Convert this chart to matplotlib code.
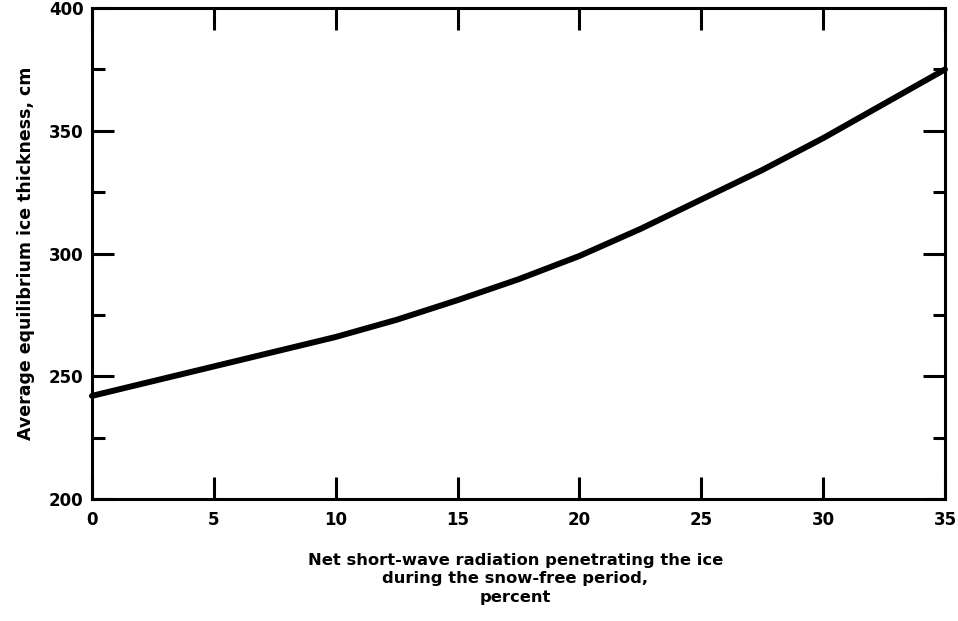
import matplotlib.pyplot as plt
from matplotlib.ticker import MultipleLocator

# values
radiation_pct = [0, 2.5, 5, 7.5, 10, 12.5, 15, 17.5, 20, 22.5, 25, 27.5, 30, 32.5, 35]
ice_thickness = [242, 248, 254, 260, 266, 273, 281, 289.5, 299, 310, 322, 334, 347, 361, 375]

x_ticks = [0, 5, 10, 15, 20, 25, 30, 35]
y_ticks = [200, 250, 300, 350, 400]

plt.rcParams['font.family'] = ['DejaVu Sans']
plt.rcParams['font.weight'] = 'bold'

fig = plt.figure(figsize=(9.58, 6.21), dpi=100)
ax = fig.add_axes([0.096, 0.1965, 0.8904, 0.7905])

ax.plot(radiation_pct, ice_thickness, color='black', linewidth=4.3,
        solid_capstyle='round', clip_on=False)

ax.set_xlim(0, 35)
ax.set_ylim(200, 400)
ax.set_xticks(x_ticks)
ax.set_yticks(y_ticks)
ax.yaxis.set_minor_locator(MultipleLocator(25))

for s in ax.spines.values():
    s.set_linewidth(2.2)

ax.tick_params(which='both', direction='in', top=True, right=True,
               width=2.2, labelsize=12, colors='black')
ax.tick_params(which='major', length=16, pad=6)
ax.tick_params(axis='x', which='major', pad=9)
ax.tick_params(which='minor', length=9)
for lbl in ax.get_xticklabels() + ax.get_yticklabels():
    lbl.set_fontweight('bold')

ax.set_ylabel('Average equilibrium ice thickness, cm', fontsize=12.5,
              fontweight='bold', labelpad=10)
fig.text(0.538, 0.068, 'Net short-wave radiation penetrating the ice\n'
         'during the snow-free period,\npercent',
         ha='center', va='center', fontsize=11.8, fontweight='bold',
         linespacing=1.3)

fig.savefig('out.png', dpi=100)
